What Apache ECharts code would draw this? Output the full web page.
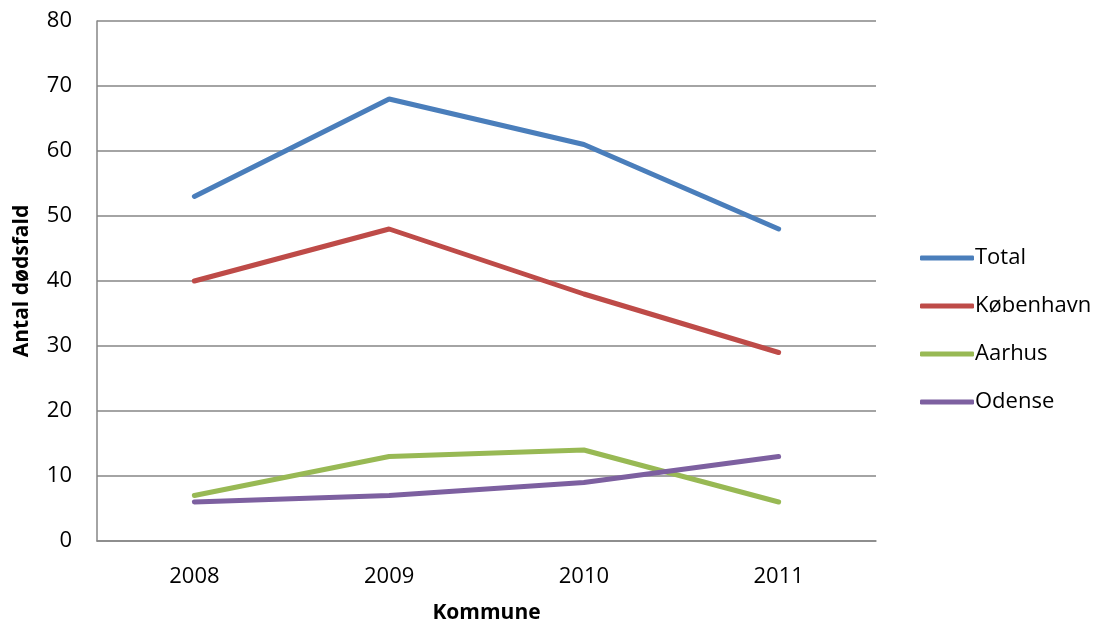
<!DOCTYPE html>
<html>
<head>
<meta charset="utf-8">
<script src="https://cdn.jsdelivr.net/npm/echarts@6/dist/echarts.min.js"></script>
<style>
  html, body { margin: 0; padding: 0; background: #fff; }
  #chart { width: 1097px; height: 626px; }
</style>
</head>
<body>
<div id="chart"></div>
<script>
// data
var years = ['2008', '2009', '2010', '2011'];
var total = [53, 68, 61, 48];
var kobenhavn = [40, 48, 38, 29];
var aarhus = [7, 13, 14, 6];
var odense = [6, 7, 9, 13];

var seriesNames = ['Total', 'København', 'Aarhus', 'Odense'];
var seriesData = [total, kobenhavn, aarhus, odense];
var colors = ['#4A7EBB', '#BE4B48', '#98B954', '#7D60A0'];

var myChart = echarts.init(document.getElementById('chart'));
var font = '"Open Sans", "Liberation Sans", sans-serif';

var series = [];
for (var i = 0; i < seriesNames.length; i++) {
    series.push({
        name: seriesNames[i],
        type: 'line',
        data: seriesData[i],
        symbol: 'none',
        smooth: false,
        lineStyle: { width: 5, color: colors[i], cap: 'round' },
        itemStyle: { color: colors[i] }
    });
}

var option = {
    animation: false,
    color: colors,
    grid: {
        left: 97,
        right: 221,
        top: 21,
        bottom: 85,
        outerBoundsMode: 'none'
    },
    legend: {
        orient: 'vertical',
        left: 915,
        top: 242,
        itemWidth: 54,
        itemHeight: 5,
        itemGap: 26,
        icon: 'roundRect',
        data: seriesNames,
        textStyle: { fontFamily: font, fontSize: 22, color: '#000', padding: [0, 0, 0, -4] }
    },
    xAxis: {
        type: 'category',
        data: years,
        boundaryGap: true,
        name: 'Kommune',
        nameLocation: 'middle',
        nameGap: 62,
        nameTextStyle: { fontFamily: font, fontSize: 21, fontWeight: 'bold', color: '#000' },
        axisLine: { lineStyle: { color: '#868686', width: 1.5 } },
        axisTick: { show: false },
        axisLabel: { fontFamily: font, fontSize: 22, color: '#000', margin: 25 },
        splitLine: { show: false }
    },
    yAxis: {
        type: 'value',
        min: 0,
        max: 80,
        interval: 10,
        name: 'Antal dødsfald',
        nameLocation: 'middle',
        nameGap: 64,
        nameTextStyle: { fontFamily: font, fontSize: 21, fontWeight: 'bold', color: '#000' },
        axisLine: { show: true, lineStyle: { color: '#868686', width: 1.5 } },
        axisTick: { show: false },
        axisLabel: { fontFamily: font, fontSize: 22, color: '#000', margin: 25 },
        splitLine: { show: true, lineStyle: { color: '#868686', width: 1.5 } }
    },
    series: series
};

myChart.setOption(option);
</script>
</body>
</html>
